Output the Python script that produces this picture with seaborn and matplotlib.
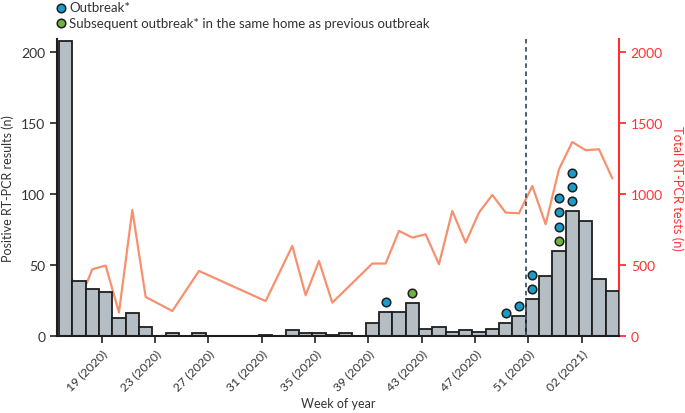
import numpy as np
import pandas as pd
import matplotlib
matplotlib.use('Agg')
import matplotlib.pyplot as plt
import seaborn as sns

# weeks 16 (2020) .. 04 (2021)
weeks = [f'{w} (2020)' for w in range(16, 54)] + [f'{w:02d} (2021)' for w in range(1, 5)]

positive = [208, 39, 33, 31, 13, 16, 6, 0, 2, 0, 2, 0, 0, 0, 0, 1, 0, 4, 2, 2,
            1, 2, 0, 9, 17, 17, 23, 5, 6, 3, 4, 3, 5, 9, 14, 26, 42, 60, 88, 81,
            40, 32]

tests = [552, 239, 470, 496, 165, 887, 275, np.nan, 176, np.nan, 458, np.nan, np.nan,
         np.nan, np.nan, 246, np.nan, 634, 287, 528, 235, np.nan, np.nan, 510, 510,
         740, 693, 716, 505, 880, 657, 869, 993, 869, 864, 1056, 787, 1174, 1366,
         1308, 1315, 1110]

# outbreaks per week, listed bottom to top: 'new' or 'repeat'
outbreak_weeks = ['40 (2020)', '42 (2020)', '49 (2020)', '50 (2020)', '51 (2020)',
                  '53 (2020)', '01 (2021)']
outbreak_kinds = [['new'], ['repeat'], ['new'], ['new'], ['new', 'new'],
                  ['repeat', 'new', 'new', 'new'], ['new', 'new', 'new']]

tick_weeks = ['19 (2020)', '23 (2020)', '27 (2020)', '31 (2020)', '35 (2020)',
              '39 (2020)', '43 (2020)', '47 (2020)', '51 (2020)', '02 (2021)']

df = pd.DataFrame({'week': weeks, 'positive': positive, 'tests': tests})
df['pos'] = np.arange(len(df))

sns.set_style('ticks')
plt.rcParams['font.family'] = ['Lato', 'DejaVu Sans']

blue = '#1a9cc8'
green = '#6cb33f'
red = '#ff3030'
dark = '#1e1e1e'
grey_txt = '#333333'

fig = plt.figure(figsize=(6.85, 4.14), dpi=100)
ax = fig.add_axes([0.0832, 0.186, 0.8204, 0.717])

sns.barplot(data=df, x='week', y='positive', order=weeks, color='#b5bdc5',
            edgecolor=dark, linewidth=1.3, width=1, saturation=1, ax=ax, zorder=2)

# outbreak dots
for wk, kinds in zip(outbreak_weeks, outbreak_kinds):
    i = weeks.index(wk)
    for k, kind in enumerate(kinds):
        ax.scatter(i, positive[i] + 7 + 10 * k, s=38,
                   color=blue if kind == 'new' else green,
                   edgecolor=dark, linewidth=1.1, zorder=4, clip_on=False)

ax.axvline(weeks.index('51 (2020)') - 0.5, color='#3d5566', lw=1.3,
           ls=(0, (2.5, 2)), zorder=3)

ax.set_xlim(-0.65, len(weeks) - 0.5)
ax.set_ylim(0, 209)
ax.set_yticks([0, 50, 100, 150, 200])
ax.set_xticks([weeks.index(w) - 0.3 for w in tick_weeks])
ax.set_xticklabels(tick_weeks, rotation=45, ha='right', rotation_mode='anchor')
ax.set_xlabel('Week of year', fontsize=9, color=grey_txt, labelpad=4)
ax.set_ylabel('Positive RT-PCR results (n)', fontsize=9, color=grey_txt, labelpad=5)
ax.tick_params(axis='y', labelsize=10, colors=grey_txt, width=1.3, length=5)
ax.tick_params(axis='x', labelsize=8.8, colors=grey_txt, width=1.3, length=5, pad=3)
for s in ['left', 'bottom']:
    ax.spines[s].set_linewidth(1.5)
    ax.spines[s].set_color(dark)
ax.spines['top'].set_visible(False)
ax.spines['right'].set_visible(False)

ax2 = ax.twinx()
line_df = df.dropna(subset=['tests'])
sns.lineplot(x=line_df['pos'], y=line_df['tests'], color='#f7906f', lw=1.6,
             ax=ax2, zorder=1)
ax2.set_ylim(0, 2090)
ax2.set_yticks([0, 500, 1000, 1500, 2000])
ax2.set_ylabel('Total RT-PCR tests (n)', fontsize=9.3, color=red, rotation=270,
               labelpad=15)
ax2.tick_params(axis='y', labelsize=10, colors=red, width=1.3, length=5)
ax2.spines['right'].set_color(red)
ax2.spines['right'].set_linewidth(1.5)
for s in ['left', 'bottom', 'top']:
    ax2.spines[s].set_visible(False)
ax2.set_xlabel('')

# bars above the line
ax.set_zorder(ax2.get_zorder() + 1)
ax.patch.set_visible(False)

# legend
h1 = ax.scatter([], [], s=38, color=blue, edgecolor=dark, linewidth=1.1)
h2 = ax.scatter([], [], s=38, color=green, edgecolor=dark, linewidth=1.1)
fig.legend([h1, h2], ['Outbreak*', 'Subsequent outbreak* in the same home as previous outbreak'],
           loc='upper left', bbox_to_anchor=(0.066, 1.02), frameon=False,
           fontsize=9.5, handlelength=0.8, handletextpad=0.2, labelspacing=0.25,
           borderpad=0.3, labelcolor=grey_txt)

fig.savefig('out.png', dpi=100)
